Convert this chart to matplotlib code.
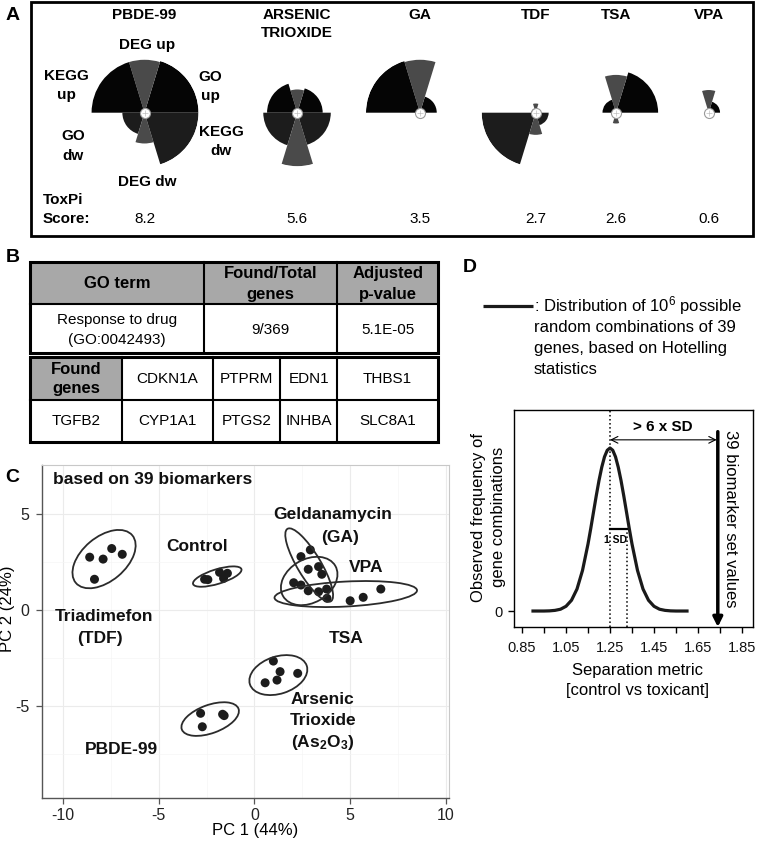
import numpy as np
import matplotlib
matplotlib.use('Agg')
import matplotlib.pyplot as plt
from matplotlib.patches import Rectangle, Ellipse

plt.rcParams['font.family'] = ['Liberation Sans', 'DejaVu Sans']
plt.rcParams['mathtext.fontset'] = 'custom'
plt.rcParams['mathtext.rm'] = 'Liberation Sans'
plt.rcParams['mathtext.bf'] = 'Liberation Sans:bold'
plt.rcParams['mathtext.it'] = 'Liberation Sans:italic'
plt.rcParams['axes.unicode_minus'] = False

# ---------------- DATA ----------------
# Panel A: ToxPi profiles
compounds = ['PBDE-99', 'ARSENIC\nTRIOXIDE', 'GA', 'TDF', 'TSA', 'VPA']
toxpi_scores = [8.2, 5.6, 3.5, 2.7, 2.6, 0.6]
slice_names = ['GO up', 'DEG up', 'KEGG up', 'GO dw', 'DEG dw', 'KEGG dw']
slice_widths_deg = [73, 34, 73, 73, 34, 73]
slice_colors = ['#050505', '#4a4a4a', '#050505', '#1c1c1c', '#4a4a4a', '#1c1c1c']
pbde_radii = [1.00, 0.98, 0.98, 0.41, 0.57, 1.00]
arsenic_radii = [0.47, 0.43, 0.56, 0.63, 0.99, 0.62]
ga_radii = [0.31, 0.98, 1.00, 0.00, 0.00, 0.00]
tdf_radii = [0.08, 0.17, 0.08, 1.00, 0.41, 0.24]
tsa_radii = [0.78, 0.70, 0.25, 0.05, 0.20, 0.05]
vpa_radii = [0.21, 0.42, 0.05, 0.00, 0.05, 0.00]

# Panel B: enrichment table
b_headers = ['GO term', 'Found/Total\ngenes', 'Adjusted\np-value']
b_row = ['Response to drug\n(GO:0042493)', '9/369', '5.1E-05']
found_label = 'Found\ngenes'
found_genes = ['CDKN1A', 'PTPRM', 'EDN1', 'THBS1',
               'TGFB2', 'CYP1A1', 'PTGS2', 'INHBA', 'SLC8A1']

# Panel C: PCA scores
tdf_pc1 = [-8.6, -7.9, -7.45, -6.9, -8.35]
tdf_pc2 = [2.75, 2.65, 3.2, 2.9, 1.6]
control_pc1 = [-2.6, -2.43, -1.82, -1.41, -1.61]
control_pc2 = [1.6, 1.58, 1.96, 1.91, 1.65]
ga_pc1 = [2.92, 2.43, 2.81, 3.52, 3.79]
ga_pc2 = [3.13, 2.78, 2.12, 1.86, 0.61]
vpa_pc1 = [3.35, 2.05, 2.43, 3.77]
vpa_pc2 = [2.26, 1.42, 1.30, 1.09]
tsa_pc1 = [2.81, 3.35, 5.0, 5.68, 6.6]
tsa_pc2 = [1.0, 0.95, 0.48, 0.66, 1.09]
as_pc1 = [0.99, 1.34, 1.18, 0.56, 2.26]
as_pc2 = [-2.66, -3.21, -3.65, -3.79, -3.30]
pbde_pc1 = [-2.81, -2.72, -1.66, -1.58]
pbde_pc2 = [-5.38, -6.08, -5.43, -5.5]
# ellipses: (centre pc1, centre pc2, width, height, angle)
ell_tdf = (-7.85, 2.65, 3.85, 2.3, 40)
ell_control = (-1.94, 1.74, 2.64, 0.76, 17)
ell_ga = (2.86, 2.34, 4.4, 1.22, -59)
ell_vpa = (2.86, 1.51, 3.15, 2.27, 30)
ell_tsa = (4.77, 0.83, 7.45, 1.3, 3)
ell_as = (1.25, -3.39, 3.12, 1.94, 18)
ell_pbde = (-2.31, -5.68, 3.15, 1.47, 20)

# Panel D: null distribution of separation metric
sep_metric = [0.90, 0.925, 0.95, 0.975, 1.00, 1.025, 1.05, 1.075, 1.10, 1.125,
              1.15, 1.1625, 1.175, 1.1875, 1.20, 1.2125, 1.225, 1.2375, 1.25,
              1.2625, 1.275, 1.2875, 1.30, 1.3125, 1.325, 1.3375, 1.35,
              1.375, 1.40, 1.425, 1.45, 1.475, 1.50, 1.525, 1.55, 1.575, 1.60]
sep_freq = [0, 0, 0, 0.001, 0.004, 0.011, 0.029, 0.066, 0.135, 0.249,
            0.411, 0.506, 0.607, 0.707, 0.801, 0.882, 0.946, 0.986, 1.0,
            0.986, 0.946, 0.882, 0.801, 0.707, 0.607, 0.506, 0.411,
            0.249, 0.135, 0.066, 0.029, 0.011, 0.004, 0.001, 0, 0, 0]
dist_mean = 1.25
dist_sd = 0.078
biomarker_value = 1.74
d_xticks = [0.85, 1.05, 1.25, 1.45, 1.65, 1.85]
d_minor = [0.95, 1.15, 1.35, 1.55, 1.75]

# ---------------- FIGURE ----------------
W, H = 757, 842
fig = plt.figure(figsize=(W / 100, H / 100), dpi=100)
ov = fig.add_axes([0, 0, 1, 1])
ov.set_xlim(0, W)
ov.set_ylim(H, 0)
ov.axis('off')


def rect_px(l, t, r, b):
    return [l / W, 1 - b / H, (r - l) / W, (b - t) / H]


def top_lines(ax, x, y0, s, lsp, **kw):
    for i, line in enumerate(s.split('\n')):
        ax.text(x, y0 + i * lsp, line, ha='center', va='center', **kw)


def centered_lines(ax, x, yc, s, lsp, **kw):
    ls = s.split('\n')
    n = len(ls)
    for i, line in enumerate(ls):
        ax.text(x, yc + (i - (n - 1) / 2) * lsp, line, ha='center', va='center', **kw)


# ---------- Panel A ----------
ov.add_patch(Rectangle((31, 2), 722, 234, fill=False, lw=2, ec='black'))
ov.text(13, 15, 'A', fontsize=14, fontweight='bold', ha='center', va='center')
pie_x = [144.5, 297.3, 420, 535.7, 616, 708.7]
pie_y = 112.7
R_px = 54
all_radii = [pbde_radii, arsenic_radii, ga_radii, tdf_radii, tsa_radii, vpa_radii]
widths = np.deg2rad(slice_widths_deg)
starts = np.concatenate([[0], np.cumsum(widths)[:-1]])
centers = starts + widths / 2
for cx, name, radii, sc in zip(pie_x, compounds, all_radii, toxpi_scores):
    axp = fig.add_axes(rect_px(cx - R_px, pie_y - R_px, cx + R_px, pie_y + R_px),
                       projection='polar')
    axp.bar(centers, radii, width=widths, bottom=0, color=slice_colors,
            edgecolor='none', linewidth=0)
    axp.set_ylim(0, 1)
    axp.axis('off')
    axp.scatter([0], [0], s=52, facecolor='white', edgecolor='#9a9a9a', lw=0.8, zorder=5,
                clip_on=False)
    axp.scatter([0], [0], s=18, marker='+', color='#c0c0c0', lw=0.5, zorder=6, clip_on=False)
    top_lines(ov, cx, 15, name, 18, fontsize=11, fontweight='bold')
    ov.text(cx, 219, f'{sc:.1f}', fontsize=11, ha='center', va='center')

for lab, (x, y) in zip(['GO\nup', 'DEG up', 'KEGG\nup', 'GO\ndw', 'DEG dw', 'KEGG\ndw'],
                       [(210, 86.5), (147, 45), (66, 85.5), (73, 146), (147, 182), (221, 141.5)]):
    centered_lines(ov, x, y, lab, 19, fontsize=11, fontweight='bold')
ov.text(43, 200, 'ToxPi', fontsize=11, fontweight='bold', ha='left', va='center')
ov.text(43, 219, 'Score:', fontsize=11, fontweight='bold', ha='left', va='center')

# ---------- Panel B ----------
ov.text(13, 258, 'B', fontsize=14, fontweight='bold', ha='center', va='center')
gray = '#a8a8a8'
tcols = [30, 204, 337.3, 438]
trows = [262.3, 304, 353.3]
ov.add_patch(Rectangle((tcols[0], trows[0]), tcols[-1] - tcols[0], trows[1] - trows[0],
                       fc=gray, ec='none'))
for x in tcols[1:-1]:
    ov.plot([x, x], [trows[0], trows[-1]], color='k', lw=1.5)
ov.plot([tcols[0], tcols[-1]], [trows[1], trows[1]], color='k', lw=1.5)
ov.add_patch(Rectangle((tcols[0], trows[0]), tcols[-1] - tcols[0], trows[-1] - trows[0],
                       fill=False, lw=2.2, ec='k'))
for j in range(3):
    xc = (tcols[j] + tcols[j + 1]) / 2
    centered_lines(ov, xc, (trows[0] + trows[1]) / 2 + 0.5, b_headers[j], 21,
                   fontsize=12, fontweight='bold')
    centered_lines(ov, xc, (trows[1] + trows[2]) / 2 + 1, b_row[j], 20, fontsize=11)

gcols = [30, 121.7, 212.7, 280, 337.3, 438]
grows = [357.3, 400, 441.7]
ov.add_patch(Rectangle((gcols[0], grows[0]), gcols[1] - gcols[0], grows[1] - grows[0],
                       fc=gray, ec='none'))
for x in gcols[1:-1]:
    ov.plot([x, x], [grows[0], grows[-1]], color='k', lw=1.5)
ov.plot([gcols[0], gcols[-1]], [grows[1], grows[1]], color='k', lw=1.5)
ov.add_patch(Rectangle((gcols[0], grows[0]), gcols[-1] - gcols[0], grows[-1] - grows[0],
                       fill=False, lw=2.2, ec='k'))
cells = [found_label] + found_genes
for k, txt in enumerate(cells):
    r, c = divmod(k, 5)
    xc = (gcols[c] + gcols[c + 1]) / 2
    yc = (grows[r] + grows[r + 1]) / 2
    if k == 0:
        centered_lines(ov, xc, yc, txt, 19, fontsize=12, fontweight='bold')
    else:
        ov.text(xc, yc, txt, fontsize=11, ha='center', va='center')

# ---------- Panel C ----------
ov.text(12, 478, 'C', fontsize=14, fontweight='bold', ha='center', va='center')
axc = fig.add_axes(rect_px(42, 465, 449, 798))
axc.set_xlim(-11.09, 10.16)
axc.set_ylim(-9.79, 7.55)
axc.set_xticks([-10, -5, 0, 5, 10])
axc.set_yticks([-5, 0, 5])
axc.set_xticks([-7.5, -2.5, 2.5, 7.5], minor=True)
axc.set_yticks([-7.5, -2.5, 2.5], minor=True)
axc.grid(which='major', color='#ebebeb', lw=0.8)
axc.grid(which='minor', color='#f5f5f5', lw=0.5)
axc.set_axisbelow(True)
axc.tick_params(which='minor', length=0)
axc.tick_params(which='major', direction='out', length=4, width=0.9, color='#555555',
                labelsize=11.5, labelcolor='#222222')
axc.tick_params(axis='x', pad=3)
axc.tick_params(axis='y', pad=5)
for s in ['left', 'bottom']:
    axc.spines[s].set_color('#555555')
    axc.spines[s].set_linewidth(1.0)
for s in ['top', 'right']:
    axc.spines[s].set_color('#c8c8c8')
    axc.spines[s].set_linewidth(0.8)

groups = [(tdf_pc1, tdf_pc2), (control_pc1, control_pc2), (ga_pc1, ga_pc2),
          (vpa_pc1, vpa_pc2), (tsa_pc1, tsa_pc2), (as_pc1, as_pc2), (pbde_pc1, pbde_pc2)]
for gx, gy in groups:
    axc.scatter(gx, gy, s=42, color='#1c1c1c', edgecolor='none', zorder=3)
for (ex, ey, ew, eh, ea) in [ell_tdf, ell_control, ell_ga, ell_vpa, ell_tsa, ell_as, ell_pbde]:
    axc.add_patch(Ellipse((ex, ey), ew, eh, angle=ea, fill=False, ec='#2b2b2b', lw=1.3, zorder=4))

lb = dict(fontsize=12.5, fontweight='bold', ha='center', va='center', color='#111111')
axc.text(-10.52, 6.77, 'based on 39 biomarkers', fontsize=12.5, fontweight='bold',
         ha='left', va='center', color='#111111')
axc.text(4.08, 4.95, 'Geldanamycin', **lb)
axc.text(4.46, 3.79, '(GA)', **lb)
axc.text(-3.0, 3.33, 'Control', **lb)
axc.text(5.82, 2.22, 'VPA', **lb)
axc.text(-7.86, -0.35, 'Triadimefon', **lb)
axc.text(-8.04, -1.47, '(TDF)', **lb)
axc.text(4.77, -1.48, 'TSA', **lb)
axc.text(3.53, -4.65, 'Arsenic', **lb)
axc.text(3.58, -5.76, 'Trioxide', **lb)
axc.text(3.58, -6.91, r'(As$_\mathbf{2}$O$_\mathbf{3}$)', **lb)
axc.text(-6.94, -7.29, 'PBDE-99', **lb)
ov.text(255, 830, 'PC 1 (44%)', fontsize=12, ha='center', va='center')
ov.text(8, 609, 'PC 2 (24%)', fontsize=12, ha='center', va='center', rotation=90)

# ---------- Panel D ----------
ov.text(470, 268, 'D', fontsize=14, fontweight='bold', ha='center', va='center')
ov.plot([483, 533], [305.5, 305.5], color='#1a1a1a', lw=2.3, solid_capstyle='butt')
d_legend = ': Distribution of 10$^6$ possible\nrandom combinations of 39\ngenes, based on Hotelling\nstatistics'
for i, line in enumerate(d_legend.split('\n')):
    ov.text(534, 306 + i * 21, line, fontsize=12, ha='left', va='center')

axd = fig.add_axes(rect_px(514, 410, 753, 627))
axd.set_xlim(0.8136, 1.90)
axd.set_ylim(-0.098, 1.233)
axd.plot(sep_metric, sep_freq, color='#1a1a1a', lw=2.3, solid_joinstyle='round', zorder=3)
axd.set_xticks(d_xticks)
axd.set_xticklabels([f'{v:.2f}' for v in d_xticks])
axd.set_xticks(d_minor, minor=True)
axd.set_yticks([0])
axd.set_yticklabels(['0'])
axd.tick_params(which='both', direction='out', length=4, width=1, color='k',
                labelsize=10.5, labelcolor='#111111')
axd.tick_params(axis='x', pad=6)
axd.tick_params(axis='y', pad=4)
for s in axd.spines.values():
    s.set_color('black')
    s.set_linewidth(1.0)
top_y = 1.233
axd.plot([dist_mean, dist_mean], [-0.098, top_y], ls=':', color='k', lw=1.1)
axd.plot([dist_mean + dist_sd] * 2, [-0.098, 0.503], ls=':', color='k', lw=1.1)
axd.plot([dist_mean, dist_mean + dist_sd], [0.503, 0.503], color='k', lw=1.6)
axd.text(dist_mean + 0.025, 0.436, '1 SD', fontsize=7.5, fontweight='bold',
         ha='center', va='center')
axd.annotate('', xy=(biomarker_value - 0.005, 1.05), xytext=(dist_mean, 1.05),
             arrowprops=dict(arrowstyle='<->', lw=0.8, color='k', mutation_scale=12,
                             shrinkA=0, shrinkB=0))
axd.text(1.49, 1.13, '> 6 x SD', fontsize=11, fontweight='bold', ha='center', va='center')
axd.annotate('', xy=(biomarker_value, -0.098), xytext=(biomarker_value, 1.10),
             arrowprops=dict(arrowstyle='-|>', lw=2.5, color='k', mutation_scale=14,
                             shrinkA=0, shrinkB=0), annotation_clip=False)
axd.text(1.797, 1.11, '39 biomarker set values', fontsize=12, rotation=-90,
         ha='center', va='top')
ov.text(637, 670, 'Separation metric', fontsize=12, ha='center', va='center')
ov.text(637, 691, '[control vs toxicant]', fontsize=12, ha='center', va='center')
ov.text(478, 517, 'Observed frequency of', fontsize=12, ha='center', va='center', rotation=90)
ov.text(498, 517, 'gene combinations', fontsize=12, ha='center', va='center', rotation=90)

fig.savefig('out.png', dpi=100)
